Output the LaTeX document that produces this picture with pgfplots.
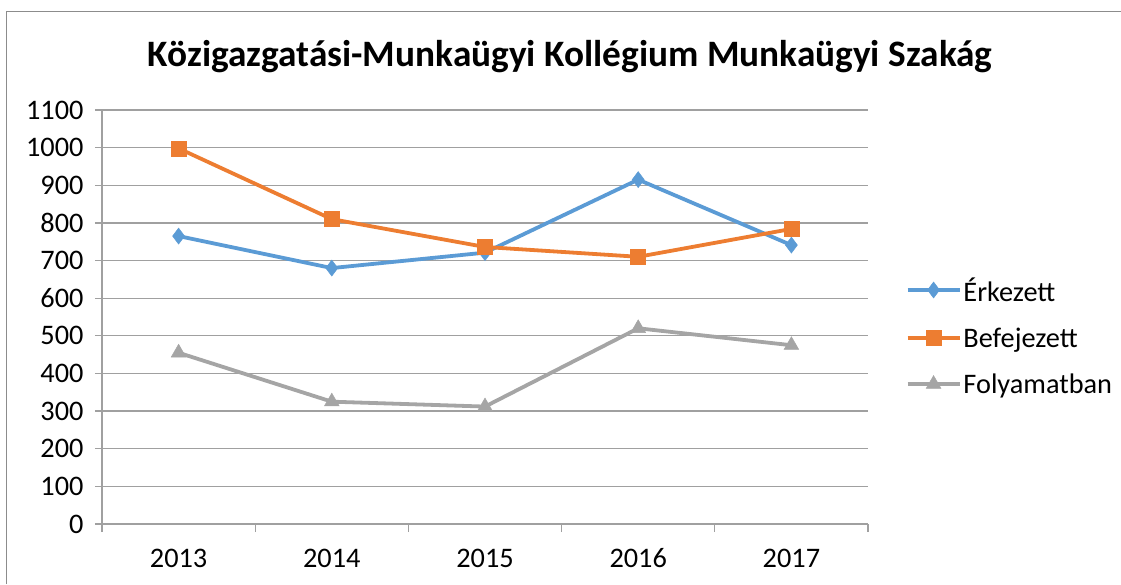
\documentclass[border=0pt]{standalone}
\usepackage{fontspec}
\setmainfont{Carlito}
\usepackage{pgfplots}
\pgfplotsset{compat=1.18}
\definecolor{cblue}{HTML}{5B9BD5}
\definecolor{corange}{HTML}{ED7D31}
\definecolor{cgray}{HTML}{A5A5A5}
\definecolor{gridc}{HTML}{A0A0A0}
\definecolor{borderc}{HTML}{8C8C8C}
\newcommand{\tickfont}{\fontsize{28.3pt}{33pt}\selectfont}
\begin{document}
\begin{tikzpicture}
\path[use as bounding box] (0,0) rectangle (1121pt,584pt);
\draw[borderc, line width=1.3pt] (6.5pt,0) -- (6.5pt,572.5pt) -- (1121pt,572.5pt);
\node[font=\fontsize{37.3pt}{42pt}\selectfont\bfseries, anchor=center] at (570pt,527pt) {Közigazgatási-Munkaügyi Kollégium Munkaügyi Szakág};
\begin{axis}[
  at={(102pt,60pt)}, anchor=south west,
  width=766pt, height=414pt, scale only axis,
  xmin=-0.5, xmax=4.5, ymin=0, ymax=1100,
  xtick={0,1,2,3,4},
  xticklabels={2013,2014,2015,2016,2017},
  minor xtick={-0.5,0.5,1.5,2.5,3.5,4.5},
  major x tick style={draw=none},
  minor x tick style={gridc, line width=1.3pt},
  ytick={0,100,...,1100},
  y tick style={gridc, line width=1.3pt},
  tick align=outside,
  major tick length=7pt, minor tick length=8pt,
  axis x line*=bottom, axis y line*=left,
  axis line style={gridc, line width=1.3pt},
  ymajorgrids,
  major grid style={gridc, line width=1.3pt},
  tick label style={font=\tickfont, black},
  /pgf/number format/assume math mode=true,
  /pgf/number format/1000 sep={},
  yticklabel style={xshift=-8pt},
  xticklabel style={anchor=base, yshift=-36pt},
  clip=false,
  legend style={draw=none, fill=none, font=\tickfont, at={(1.045,0.454)}, anchor=west,
    row sep=21pt, nodes={inner sep=2pt}},
  legend cell align=left,
  legend image code/.code={\draw[mark repeat=2,mark phase=2] plot coordinates {(0pt,0pt) (26pt,0pt) (52pt,0pt)};},
  every axis plot/.append style={line width=3.8pt},
]
\addplot[cblue, mark=diamond*, mark size=8pt, mark options={solid, line width=0.5pt}] coordinates {
(0,765) (1,680) (2,721) (3,915) (4,741)};
\addlegendentry{Érkezett}
\addplot[corange, mark=square*, mark size=7.5pt, mark options={solid, line width=0.5pt}] coordinates {
(0,998) (1,810) (2,736) (3,710) (4,784)};
\addlegendentry{Befejezett}
\addplot[cgray, mark=triangle*, mark size=8.5pt, mark options={solid, line width=0.5pt}] coordinates {
(0,455) (1,325) (2,312) (3,520) (4,475)};
\addlegendentry{Folyamatban}
\end{axis}
\end{tikzpicture}
\end{document}
